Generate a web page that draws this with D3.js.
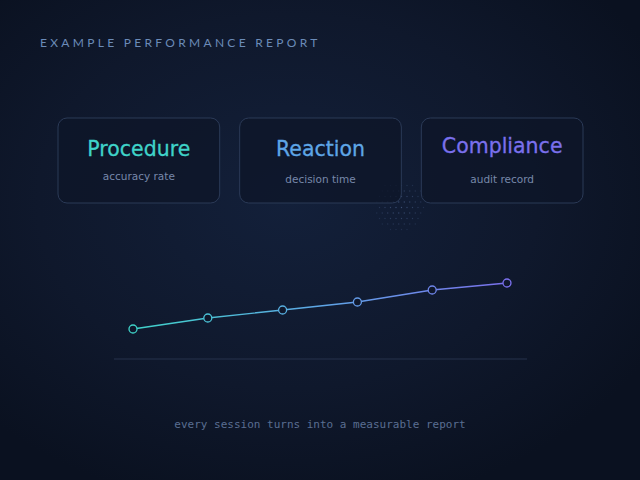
<!DOCTYPE html>
<html>
<head>
<meta charset="utf-8">
<script src="https://cdn.jsdelivr.net/npm/d3@7"></script>
<style>
html, body { margin: 0; padding: 0; background: #0b1222; }
svg { display: block; }
</style>
</head>
<body>
<div id="chart"></div>
<script>
const reportTitle = "EXAMPLE PERFORMANCE REPORT";
const footerText = "every session turns into a measurable report";

const cardTitles = ["Procedure", "Reaction", "Compliance"];
const cardSubtitles = ["accuracy rate", "decision time", "audit record"];
const cardColors = ["#3fd3c9", "#5ea6e6", "#7a70ec"];

const sessions = [1, 2, 3, 4, 5, 6];
const scores = [30, 41, 49, 57, 69, 76];

function drawReport(e) {
    let width = 640, height = 480;
    let id = "#" + e;

    d3.select(id).selectAll("*").remove();

    let svg = d3.select(id)
	.append("svg")
	.attr("width", width)
	.attr("height", height);

    let defs = svg.append("defs");

    // background glow
    let bg = defs.append("radialGradient")
	.attr("id", "bg-glow")
	.attr("cx", "45%").attr("cy", "42%").attr("r", "65%");
    bg.append("stop").attr("offset", "0%").attr("stop-color", "#13203a");
    bg.append("stop").attr("offset", "60%").attr("stop-color", "#0f182c");
    bg.append("stop").attr("offset", "100%").attr("stop-color", "#0a1120");

    let lineGrad = defs.append("linearGradient")
	.attr("id", "line-grad")
	.attr("gradientUnits", "userSpaceOnUse")
	.attr("x1", 133).attr("x2", 507).attr("y1", 0).attr("y2", 0);
    lineGrad.append("stop").attr("offset", "0%").attr("stop-color", "#3fd3c9");
    lineGrad.append("stop").attr("offset", "50%").attr("stop-color", "#5ea6e6");
    lineGrad.append("stop").attr("offset", "100%").attr("stop-color", "#7a70ec");

    svg.append("rect")
	.attr("width", width).attr("height", height)
	.attr("fill", "url(#bg-glow)");

    // header
    svg.append("text")
	.attr("x", 40).attr("y", 47)
	.attr("font-family", "Lato, 'Noto Sans', sans-serif")
	.attr("font-size", 12)
	.attr("letter-spacing", 3.3)
	.attr("fill", "#6b8bb8")
	.text(reportTitle);

    // halftone dot patch between cards 2 and 3 (regular grid, fades to edge)
    let dots = [];
    for (let gx = -26; gx <= 26; gx += 5.5) {
	for (let gy = -26; gy <= 26; gy += 5.5) {
	    let off = (Math.round(gy / 5.5) % 2) ? 2.75 : 0;
	    let dx = gx + off, dy = gy;
	    let r = Math.sqrt(dx * dx + dy * dy);
	    if (r < 26) dots.push([400 + dx, 206 + dy, 1 - r / 28]);
	}
    }
    svg.append("g").selectAll("circle")
	.data(dots)
	.enter().append("circle")
	.attr("cx", function(d) { return d[0]; })
	.attr("cy", function(d) { return d[1]; })
	.attr("r", 0.7)
	.attr("fill", "#3e5278")
	.attr("fill-opacity", function(d) { return 0.25 + 0.75 * d[2]; });

    // cards
    let cardX = d3.scaleBand()
	.domain(cardTitles)
	.range([58, 583])
	.paddingInner(0.11);

    let cards = svg.selectAll(".card")
	.data(cardTitles)
	.enter().append("g")
	.attr("class", "card")
	.attr("transform", function(d) { return "translate(" + cardX(d) + ",118)"; });

    cards.append("rect")
	.attr("width", cardX.bandwidth()).attr("height", 85)
	.attr("rx", 9)
	.attr("fill", "#0e1628")
	.attr("fill-opacity", 0.75)
	.attr("stroke", "#2b3a57")
	.attr("stroke-width", 1);

    cards.append("text")
	.attr("x", cardX.bandwidth() / 2)
	.attr("y", function(d, i) { return i == 2 ? 35 : 38; })
	.attr("text-anchor", "middle")
	.attr("font-family", "'DejaVu Sans', sans-serif")
	.attr("font-size", 20.5)
	.attr("fill", function(d, i) { return cardColors[i]; })
	.attr("stroke", function(d, i) { return cardColors[i]; })
	.attr("stroke-width", 0.3)
	.text(function(d) { return d; });

    cards.append("text")
	.attr("x", cardX.bandwidth() / 2)
	.attr("y", function(d, i) { return i == 0 ? 62 : 65; })
	.attr("text-anchor", "middle")
	.attr("font-family", "'DejaVu Sans', sans-serif")
	.attr("font-size", 10.5)
	.attr("fill", "#7788aa")
	.text(function(d, i) { return cardSubtitles[i]; });

    // trend line
    let x = d3.scalePoint()
	.domain(sessions)
	.range([133, 507]);

    let y = d3.scaleLinear()
	.domain([0, 100])
	.range([359, 259]);

    svg.append("line")
	.attr("x1", 114).attr("x2", 527)
	.attr("y1", y(0)).attr("y2", y(0))
	.attr("stroke", "#26334d")
	.attr("stroke-width", 1);

    svg.append("path")
	.datum(scores)
	.attr("fill", "none")
	.attr("stroke", "url(#line-grad)")
	.attr("stroke-width", 1.4)
	.attr("d", d3.line()
	      .x(function(d, i) { return x(sessions[i]); })
	      .y(function(d) { return y(d); }));

    let colorAt = d3.scaleLinear()
	.domain([133, 320, 507])
	.range(["#3fd3c9", "#5ea6e6", "#7a70ec"]);

    svg.append("g").selectAll("circle")
	.data(scores)
	.enter().append("circle")
	.attr("cx", function(d, i) { return x(sessions[i]); })
	.attr("cy", function(d) { return y(d); })
	.attr("r", 4)
	.attr("fill", "#0f172b")
	.attr("stroke", function(d, i) { return colorAt(x(sessions[i])); })
	.attr("stroke-width", 1.3);

    // footer
    svg.append("text")
	.attr("x", 320).attr("y", 428)
	.attr("text-anchor", "middle")
	.attr("font-family", "'DejaVu Sans Mono', 'Liberation Mono', monospace")
	.attr("font-size", 11)
	.attr("fill", "#5a6e92")
	.text(footerText);
}

drawReport("chart");
</script>
</body>
</html>
